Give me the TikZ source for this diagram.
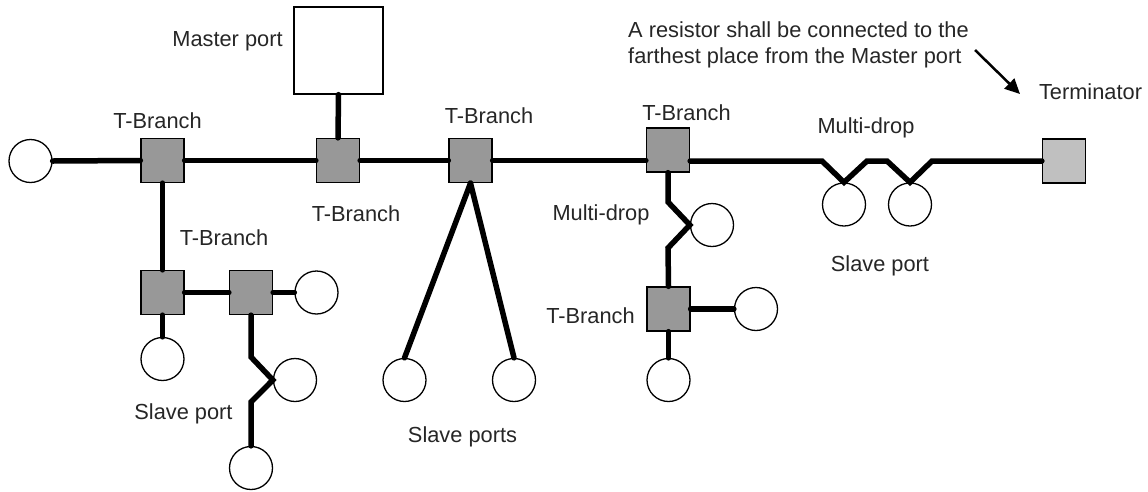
\documentclass[tikz,border=0pt]{standalone}
\usepackage{fontspec}
\setmainfont{Liberation Sans}
\usetikzlibrary{arrows.meta}
\definecolor{boxgray}{RGB}{152,152,152}
\definecolor{termgray}{RGB}{192,192,192}
\definecolor{txt}{RGB}{38,38,38}
\tikzset{
  tbox/.style={draw=black, line width=1.3pt, fill=boxgray, minimum width=43pt, minimum height=44pt, inner sep=0pt},
  termbox/.style={draw=black, line width=1.3pt, fill=termgray, minimum width=43pt, minimum height=44pt, inner sep=0pt},
  master/.style={draw=black, line width=1.3pt, fill=white, minimum width=89pt, minimum height=87pt, inner sep=0pt},
  port/.style={draw=black, line width=1.3pt, fill=white, circle, minimum size=43pt, inner sep=0pt},
  wire/.style={line width=5.5pt, line cap=round, line join=miter},
  lbl/.style={anchor=base, text=txt, inner sep=0pt, font=\fontsize{21.8}{25}\selectfont},
}
\begin{document}
\begin{tikzpicture}[x=1pt,y=-1pt]
\useasboundingbox (0,0) rectangle (1148,491);
% boxes
\node[master] (m) at (338.5,50.5) {};
\node[tbox] (b1) at (162.5,160.5) {};
\node[tbox] (b2) at (338,160.5) {};
\node[tbox] (b3) at (470.5,160.5) {};
\node[tbox] (b4) at (668,150) {};
\node[tbox] (b5) at (162.5,292.5) {};
\node[tbox] (b6) at (251,292.5) {};
\node[tbox] (b7) at (668.5,309) {};
\node[termbox] (t) at (1064,161) {};
% ports
\node[port] (p0) at (30.5,161) {};
\node[port] (p1) at (316.5,292.5) {};
\node[port] (p2) at (162.5,359) {};
\node[port] (p3) at (295,380) {};
\node[port] (p4) at (251,468) {};
\node[port] (p5) at (404.5,380) {};
\node[port] (p6) at (514,380) {};
\node[port] (p7) at (712,225) {};
\node[port] (p8) at (756,309) {};
\node[port] (p9) at (668.5,380) {};
\node[port] (p10) at (844,204.5) {};
\node[port] (p11) at (910,204.5) {};
% zigzag coordinates
\coordinate (z1) at (251,357);
\coordinate (z2) at (251,402);
\coordinate (z3) at (668,202);
\coordinate (z4) at (668,248);
\coordinate (r1) at (822,161);
\coordinate (r2) at (867,161);
\coordinate (r3) at (887,161);
\coordinate (r4) at (932,161);
% wires
\draw[wire] (p0.east) -- (b1.west);
\draw[wire] (b1.east) -- (b2.west);
\draw[wire] (b2.east) -- (b3.west);
\draw[wire] (b3.east) -- (b3.east -| b4.west);
\draw[wire] (m.south) -- (b2.north);
\draw[wire] (b1.south) -- (b5.north);
\draw[wire] (b5.east) -- (b6.west);
\draw[wire] (b6.east) -- (p1.west);
\draw[wire] (b5.south) -- (p2.north);
\draw[wire] (b6.south) -- (z1) -- (p3.west) -- (z2) -- (p4.north);
\draw[wire] (b3.south) -- (p5.north);
\draw[wire] (b3.south) -- (p6.north);
\draw[wire] (b4.south) -- (z3) -- (p7.west) -- (z4) -- (b7.north);
\draw[wire] (b7.east) -- (p8.west);
\draw[wire] (b7.south) -- (p9.north);
\draw[wire] (b4.east |- r1) -- (r1) -- (p10.north) -- (r2) -- (r3) -- (p11.north) -- (r4) -- (t.west);
% labels
\node[lbl] (lm) at (227.5,46) {Master port};
\node[lbl] (l1) at (157.5,128) {T-Branch};
\node[lbl] (l2) at (356,221.5) {T-Branch};
\node[lbl] (l3) at (224,245) {T-Branch};
\node[lbl] (l4) at (489,123) {T-Branch};
\node[lbl] (l5) at (686.5,120) {T-Branch};
\node[lbl] (l6) at (590.5,323) {T-Branch};
\node[lbl] (l7) at (601,220.5) {Multi-drop};
\node[lbl] (l8) at (866,133) {Multi-drop};
\node[lbl] (l9) at (1090.5,99) {Terminator};
\node[lbl] (l10) at (183.5,419) {Slave port};
\node[lbl] (l11) at (462.5,442) {Slave ports};
\node[lbl] (l12) at (880,271) {Slave port};
\node[lbl, anchor=base west] (n1) at (628,37.5) {A resistor shall be connected to the};
\node[lbl, anchor=base west] (n2) at (628,63) {farthest place from the Master port};
% arrow
\coordinate (a0) at (975,50);
\coordinate (a1) at (1020,94);
\draw[line width=2.5pt, -{Triangle[length=15pt,width=14pt]}] (a0) -- (a1);
\end{tikzpicture}
\end{document}
